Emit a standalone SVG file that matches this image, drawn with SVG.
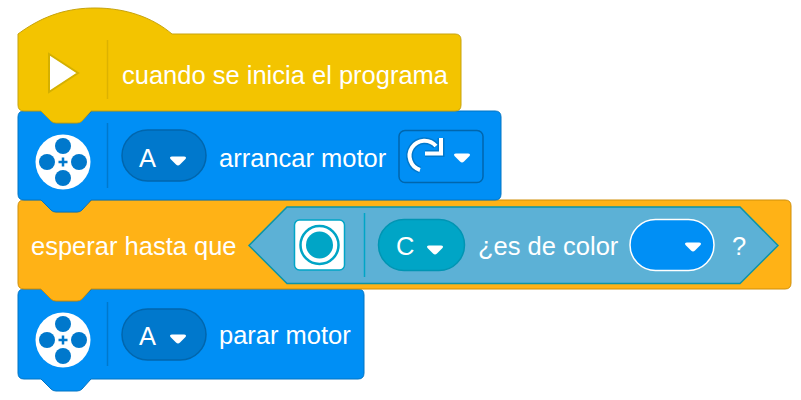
<svg xmlns="http://www.w3.org/2000/svg" width="801" height="400" viewBox="0 0 801 400">
<style>
text{font-family:"Liberation Sans",Arial,sans-serif;font-size:25.500px;fill:#fff}
.blue{fill:#008ff5;stroke:#0074c4;stroke-width:1}
.sep{stroke-width:1.500;fill:none}
.pill{fill:#0078cc;stroke:#0066ad;stroke-width:1.500}
.drop{fill:#fff}
.hole{fill:#0078cc}
</style>
<defs>
<path id="drop" class="drop" d="M-6-4.500H6Q9-4.500 7.500-2L2 3.500Q0 5.500-2 3.500L-7.500-2Q-9-4.500-6-4.500Z"/>
<g id="motor">
<circle r="27.500" fill="#fff"/>
<circle cy="-16" r="8" class="hole"/><circle cy="16" r="8" class="hole"/>
<circle cx="-16" r="8" class="hole"/><circle cx="16" r="8" class="hole"/>
<path d="M-4.500 0H4.500M0-4.500V4.500" stroke="#0078cc" stroke-width="2.500"/>
</g>
</defs>
<rect width="801" height="400" fill="#fff"/>
<g id="stop-block">
<path class="blue" d="M24 289H42L51 299Q53 301 56 301H77Q80 301 82 299L92 289H358Q364 289 364 295V373Q364 379 358 379H91L82 389Q80 391 77 391H56Q53 391 51 389L41 379H24Q18 379 18 373V295Q18 289 24 289Z"/>
<path d="M107.500 302V366" class="sep" stroke="#0078cc"/>
<use href="#motor" x="63" y="340"/>
<rect class="pill" x="122" y="309" width="84" height="51" rx="25.500"/>
<text x="139" y="345">A</text>
<use href="#drop" x="178" y="339"/>
<text x="219" y="344">parar motor</text>
</g>
<g id="wait-block">
<path fill="#ffb216" stroke="#d08f08" d="M24 200H42L51 210Q53 212 56 212H77Q80 212 82 210L92 200H785Q791 200 791 206V283Q791 289 785 289H91L82 299Q80 301 77 301H56Q53 301 51 299L41 289H24Q18 289 18 283V206Q18 200 24 200Z"/>
<text x="31" y="255">esperar hasta que</text>
</g>
<g id="color-sensor">
<path fill="#5cb1d6" stroke="#0b94a8" stroke-width="1.500" d="M287 207H740L778 245.500L740 283.500H287L249 245.500Z"/>
<path d="M364.500 213V277" class="sep" stroke="#00a5c6"/>
<rect x="294.500" y="220" width="50" height="50" rx="5" fill="#fff" stroke="#00a5c6" stroke-width="1.500"/>
<circle cx="319.500" cy="245" r="19" fill="#fff" stroke="#00a5c6" stroke-width="2.500"/>
<circle cx="319.500" cy="245" r="13.500" fill="#00a5c6"/>
<rect x="378.500" y="219.500" width="86" height="51" rx="25.500" fill="#00a5c6" stroke="#0095b3" stroke-width="1.500"/>
<text x="396" y="255">C</text>
<use href="#drop" x="435" y="250"/>
<text x="478" y="255">¿es de color</text>
<rect x="630" y="219.500" width="84" height="51" rx="25.500" fill="#008ff5" stroke="#fff" stroke-width="1.500"/>
<use href="#drop" x="693" y="247"/>
<text x="732" y="255">?</text>
</g>
<g id="start-motor-block">
<path class="blue" d="M24 111H42L51 121Q53 123 56 123H77Q80 123 82 121L92 111H495Q501 111 501 117V194Q501 200 495 200H91L82 210Q80 212 77 212H56Q53 212 51 210L41 200H24Q18 200 18 194V117Q18 111 24 111Z"/>
<path d="M107.500 123V188" class="sep" stroke="#0078cc"/>
<use href="#motor" x="63" y="162"/>
<rect class="pill" x="122" y="130" width="84" height="51" rx="25.500"/>
<text x="139" y="167">A</text>
<use href="#drop" x="178" y="161"/>
<text x="219" y="167">arrancar motor</text>
<rect x="399" y="130.500" width="84" height="52" rx="6" fill="#008ff5" stroke="#0066ad" stroke-width="1.500"/>
<path d="M420 170A15 15 0 1 1 436 146" fill="none" stroke="#0078cc" stroke-width="7"/>
<path d="M425 153.500H441V138" fill="none" stroke="#0078cc" stroke-width="7"/>
<path d="M420 170A15 15 0 1 1 436 146" fill="none" stroke="#fff" stroke-width="4"/>
<path d="M425 153.500H441V138" fill="none" stroke="#fff" stroke-width="4"/>
<use href="#drop" x="462" y="158"/>
</g>
<g id="start-block">
<path fill="#f3c400" stroke="#c7a30c" d="M18 34C45 14 70 8 95 8C125 8 152 17 172 34H455Q461 34 461 40V105Q461 111 455 111H91L82 121Q80 123 77 123H56Q53 123 51 121L41 111H24Q18 111 18 105Z"/>
<path d="M107.500 40V99" class="sep" stroke="#dcb200"/>
<path d="M49 54L78 73L49 92Z" fill="#fff" stroke="#d4b000" stroke-width="2"/>
<text x="122" y="84">cuando se inicia el programa</text>
</g>
</svg>
